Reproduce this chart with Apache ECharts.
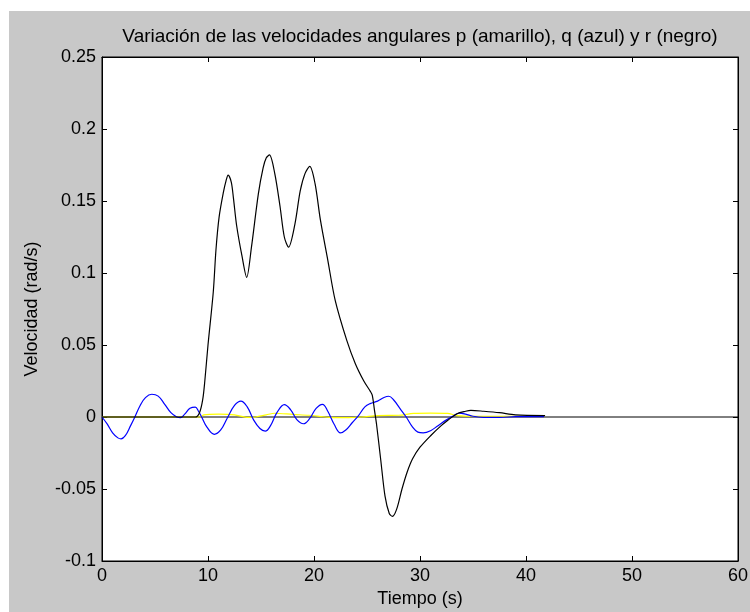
<!DOCTYPE html>
<html>
<head>
<meta charset="utf-8">
<script src="https://cdn.jsdelivr.net/npm/echarts@6/dist/echarts.min.js"></script>
<style>
  html, body { margin: 0; padding: 0; background: #ffffff; overflow: hidden; }
  #main { position: absolute; left: 9px; top: 11px; width: 741px; height: 601px; }
</style>
</head>
<body>
<div id="main"></div>
<script>
// ---- data (time in s, velocity in rad/s) ----
var titleText = 'Variación de las velocidades angulares p (amarillo), q (azul) y r (negro)';
var xTicks = [0, 10, 20, 30, 40, 50, 60];
var yTicks = [-0.1, -0.05, 0, 0.05, 0.1, 0.15, 0.2, 0.25];

// r (negro)
var rTime = [0, 8.8, 9.2, 9.5, 9.7, 10.0, 10.5, 10.75, 11.05, 11.45, 11.7, 11.9, 12.2, 12.4, 12.7, 13.2, 13.65, 14.1, 14.75, 15.2, 15.5, 15.8, 16.3, 16.8, 17.2, 17.6, 18.2, 18.7, 19.15, 19.6, 20.1, 20.6, 21.3, 22.0, 23.1, 23.9, 24.7, 25.3, 25.5, 25.7, 25.9, 26.3, 26.7, 27.1, 27.4, 27.8, 28.3, 28.8, 29.3, 30.0, 31.0, 32.0, 32.6, 33.5, 34.3, 34.8, 36.0, 37.5, 39.0, 41.8];
var rVals = [0, 0, 0.003, 0.012, 0.025, 0.05, 0.087, 0.116, 0.139, 0.156, 0.164, 0.168, 0.163, 0.152, 0.133, 0.112, 0.097, 0.118, 0.155, 0.173, 0.180, 0.182, 0.169, 0.146, 0.125, 0.118, 0.134, 0.157, 0.169, 0.174, 0.162, 0.137, 0.109, 0.081, 0.053, 0.037, 0.025, 0.018, 0.015, 0.005, -0.005, -0.030, -0.055, -0.067, -0.069, -0.064, -0.050, -0.038, -0.029, -0.021, -0.013, -0.006, -0.0024, 0.0023, 0.004, 0.0046, 0.004, 0.003, 0.0015, 0.001];

// q (azul)
var qTime = [0, 0.5, 1.0, 1.5, 1.8, 2.2, 2.7, 3.1, 3.6, 4.1, 4.7, 5.3, 5.9, 6.5, 7.05, 7.4, 7.8, 8.3, 8.8, 9.1, 9.4, 9.9, 10.6, 11.2, 11.8, 12.5, 13.1, 13.7, 14.3, 14.9, 15.4, 15.9, 16.5, 17.2, 17.8, 18.4, 19.0, 19.6, 20.2, 20.8, 21.3, 21.9, 22.5, 23.0, 23.6, 24.2, 24.8, 25.3, 26.0, 26.6, 27.05, 27.5, 28.1, 28.7, 29.3, 29.8, 30.3, 31.0, 31.7, 32.5, 33.2, 33.7, 34.3, 35.0, 36.0, 37.5, 39.0, 41.7];
var qVals = [0, -0.005, -0.011, -0.0145, -0.0152, -0.013, -0.006, 0, 0.008, 0.0135, 0.0158, 0.0145, 0.009, 0.003, 0, -0.0005, 0.002, 0.006, 0.0069, 0.004, 0, -0.007, -0.012, -0.009, -0.001, 0.008, 0.011, 0.007, -0.002, -0.008, -0.0098, -0.006, 0.003, 0.0086, 0.005, -0.002, -0.0047, -0.001, 0.006, 0.0088, 0.004, -0.005, -0.011, -0.009, -0.004, 0.001, 0.007, 0.0093, 0.011, 0.0135, 0.0144, 0.012, 0.006, 0, -0.007, -0.0105, -0.011, -0.0095, -0.006, -0.002, 0.001, 0.0027, 0.002, 0.0005, -0.0003, -0.0003, 0.0003, 0.0003];

// p (amarillo)
var pTime = [0, 9.3, 9.6, 11.0, 12.5, 13.8, 14.5, 15.5, 16.3, 18.0, 19.5, 20.5, 21.5, 23.0, 24.5, 26.0, 28.0, 29.4, 31.0, 32.6, 33.5, 35.0, 38.0, 41.7];
var pVals = [0, 0, 0.0015, 0.002, 0.0015, -0.0003, 0, 0.0015, 0.0026, 0.0018, 0.0012, 0.0005, -0.0003, -0.0005, 0, 0.001, 0.0012, 0.0025, 0.0027, 0.0025, 0.001, 0.0005, 0.0005, 0.0005];

// zero reference line
var zeroTime = [0, 60];
var zeroVals = [0, 0];

function pairs(t, v) { return t.map(function (x, i) { return [x, v[i]]; }); }

var font = '"Liberation Sans", Arial, sans-serif';
var chart = echarts.init(document.getElementById('main'), null, { renderer: 'canvas' });

function frameAxis(extra) {
  return Object.assign({
    type: 'value',
    axisLine: { show: true, onZero: false, lineStyle: { color: '#000', width: 1 } },
    axisTick: { show: true, inside: true, length: 5, lineStyle: { color: '#000', width: 1 } },
    splitLine: { show: false }
  }, extra);
}

chart.setOption({
  backgroundColor: '#c8c8c8',
  animation: false,
  title: {
    text: titleText,
    left: 411, top: 16, padding: 0, textAlign: 'center',
    textStyle: { fontFamily: font, fontSize: 19, fontWeight: 'normal', color: '#000' }
  },
  grid: {
    left: 93, right: 12, top: 46, bottom: 51,
    containLabel: false, outerBoundsMode: 'none',
    show: true, backgroundColor: '#ffffff', borderColor: '#000', borderWidth: 1
  },
  xAxis: [
    frameAxis({
      min: xTicks[0], max: xTicks[xTicks.length - 1], interval: 10,
      name: 'Tiempo (s)', nameLocation: 'middle', nameGap: 29,
      nameTextStyle: { fontFamily: font, fontSize: 18, color: '#000' },
      axisLabel: { fontFamily: font, fontSize: 18, color: '#000', margin: 6 }
    }),
    frameAxis({
      position: 'top', min: xTicks[0], max: xTicks[xTicks.length - 1], interval: 10,
      axisLabel: { show: false }
    })
  ],
  yAxis: [
    frameAxis({
      min: yTicks[0], max: yTicks[yTicks.length - 1], interval: 0.05,
      name: 'Velocidad (rad/s)', nameLocation: 'middle', nameGap: 61,
      nameTextStyle: { fontFamily: font, fontSize: 18, color: '#000' },
      axisLabel: { fontFamily: font, fontSize: 18, color: '#000', margin: 6,
        formatter: function (v) { return String(Math.round(v * 100) / 100); } }
    }),
    frameAxis({
      position: 'right', min: yTicks[0], max: yTicks[yTicks.length - 1], interval: 0.05,
      axisLabel: { show: false }
    })
  ],
  series: [
    { name: 'cero', type: 'line', data: pairs(zeroTime, zeroVals), showSymbol: false, lineStyle: { color: '#000', width: 1 }, silent: true },
    { name: 'p', type: 'line', data: pairs(pTime, pVals), showSymbol: false, smooth: 0.3, lineStyle: { color: '#ffff00', width: 1.2 } },
    { name: 'q', type: 'line', data: pairs(qTime, qVals), showSymbol: false, smooth: 0.4, lineStyle: { color: '#0000ff', width: 1.2 } },
    { name: 'r', type: 'line', data: pairs(rTime, rVals), showSymbol: false, smooth: 0.3, lineStyle: { color: '#000', width: 1.2 } }
  ]
});
</script>
</body>
</html>
